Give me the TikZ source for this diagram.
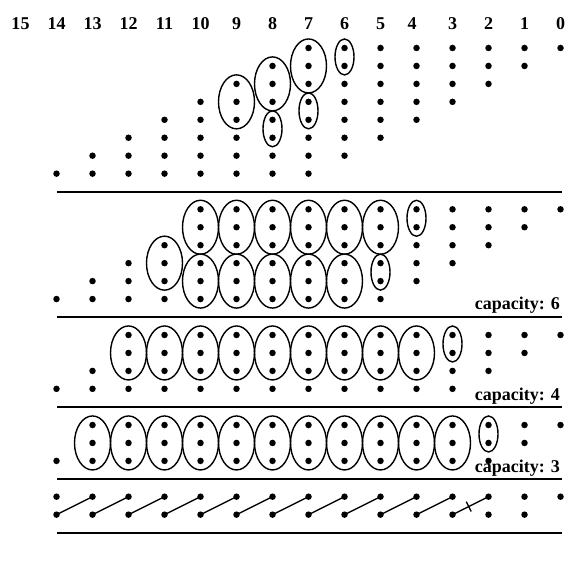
\documentclass[tikz,border=0pt]{standalone}
\usepackage{fontspec}
\setmainfont{Liberation Serif}
\usetikzlibrary{calc}
\tikzset{
  dot/.style={circle, fill=black, inner sep=0pt, minimum size=6.5pt},
  ell/.style={line width=1.4pt},
  rule/.style={line width=1.8pt},
  link/.style={line width=1.4pt},
  collab/.style={font=\fontsize{18}{18}\selectfont\bfseries, anchor=base, inner sep=0pt},
  caplab/.style={font=\fontsize{18}{18}\selectfont\bfseries, anchor=base east, inner sep=0pt}
}
\newcommand\dcol[5]{% section, column, first row, last row, y of row 1
  \foreach \r in {#3,...,#4}{%
    \node[dot] (s#1-#2-\r) at ({560.5-36*#2},{#5+17.95*(\r-1)}) {};}}
\newcommand\bigell[3]{% column, centre row, y of row 1
  \draw[ell] ({560.5-36*#1},{#3+17.95*(#2-1)}) ellipse [x radius=18pt, y radius=27pt];}
\newcommand\smallell[3]{% column, upper row, y of row 1
  \draw[ell] ({560.5-36*#1},{#3+17.95*(#2-0.5)}) ellipse [x radius=9.5pt, y radius=18pt];}
\begin{document}
\begin{tikzpicture}[x=1pt, y=-1pt]
\useasboundingbox (0,0) rectangle (578,577);
% column labels
\foreach \k in {0,...,15}{%
  \ifnum\k=4
    \node[collab] (lab\k) at ({560.5-36*\k-4.5},30) {\k};
  \else
    \node[collab] (lab\k) at ({560.5-36*\k},30) {\k};
  \fi}
% ---------- section 1 ----------
\foreach \k in {0,...,6}{\pgfmathtruncatemacro\n{\k+1}\dcol{1}{\k}{1}{\n}{48}}
\dcol{1}{7}{1}{8}{48}
\foreach \k in {8,...,14}{\pgfmathtruncatemacro\n{\k-6}\dcol{1}{\k}{\n}{8}{48}}
\smallell{6}{1}{48}
\bigell{7}{2}{48}
\smallell{7}{4}{48}
\bigell{8}{3}{48}
\smallell{8}{5}{48}
\bigell{9}{4}{48}
\coordinate (r1a) at (57,191.7);
\coordinate (r1b) at (561.5,191.7);
\draw[rule] (r1a) -- (r1b);
% ---------- section 2 ----------
\foreach \k in {0,...,4}{\pgfmathtruncatemacro\n{\k+1}\dcol{2}{\k}{1}{\n}{209.3}}
\foreach \k in {5,...,10}{\dcol{2}{\k}{1}{6}{209.3}}
\dcol{2}{11}{3}{6}{209.3}
\dcol{2}{12}{4}{6}{209.3}
\dcol{2}{13}{5}{6}{209.3}
\dcol{2}{14}{6}{6}{209.3}
\smallell{4}{1}{209.3}
\bigell{5}{2}{209.3}
\smallell{5}{4}{209.3}
\foreach \k in {6,...,10}{\bigell{\k}{2}{209.3}\bigell{\k}{5}{209.3}}
\bigell{11}{4}{209.3}
\node[caplab] (cap6) at (560,309.7) {capacity: 6};
\coordinate (r2a) at (57,316.7);
\coordinate (r2b) at (561.5,316.7);
\draw[rule] (r2a) -- (r2b);
% ---------- section 3 ----------
\dcol{3}{0}{1}{1}{335}
\dcol{3}{1}{1}{2}{335}
\dcol{3}{2}{1}{3}{335}
\foreach \k in {3,...,12}{\dcol{3}{\k}{1}{4}{335}}
\dcol{3}{13}{3}{4}{335}
\dcol{3}{14}{4}{4}{335}
\smallell{3}{1}{335}
\foreach \k in {4,...,12}{\bigell{\k}{2}{335}}
\node[caplab] (cap4) at (560,400.3) {capacity: 4};
\coordinate (r3a) at (57,407.3);
\coordinate (r3b) at (561.5,407.3);
\draw[rule] (r3a) -- (r3b);
% ---------- section 4 ----------
\dcol{4}{0}{1}{1}{425}
\dcol{4}{1}{1}{2}{425}
\foreach \k in {2,...,13}{\dcol{4}{\k}{1}{3}{425}}
\dcol{4}{14}{3}{3}{425}
\smallell{2}{1}{425}
\foreach \k in {3,...,13}{\bigell{\k}{2}{425}}
\node[caplab] (cap3) at (560,472) {capacity: 3};
\coordinate (r4a) at (57,479);
\coordinate (r4b) at (561.5,479);
\draw[rule] (r4a) -- (r4b);
% ---------- section 5 ----------
\dcol{5}{0}{1}{1}{496.7}
\foreach \k in {1,...,14}{\dcol{5}{\k}{1}{2}{496.7}}
\foreach \k in {4,...,14}{\pgfmathtruncatemacro\m{\k-1}\draw[link] (s5-\k-2.center) -- (s5-\m-1.center);}
\draw[link] (s5-3-2.center) -- coordinate[pos=0.45] (cut) (s5-2-1.center);
\draw[link] ($(cut)!5.5pt!90:(s5-2-1.center)$) -- ($(cut)!5.5pt!-90:(s5-2-1.center)$);
\coordinate (r5a) at (57,532.7);
\coordinate (r5b) at (561.5,532.7);
\draw[rule] (r5a) -- (r5b);
\end{tikzpicture}
\end{document}
